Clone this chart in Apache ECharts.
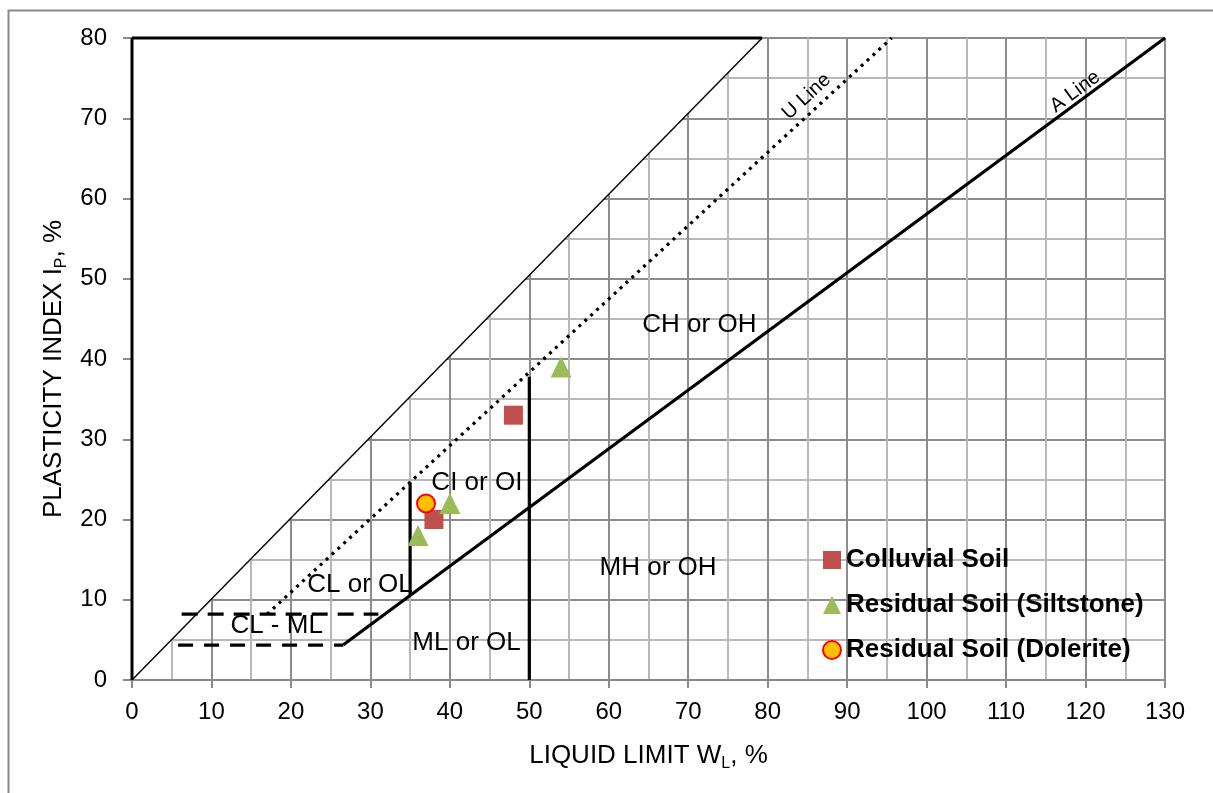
<!DOCTYPE html>
<html>
<head>
<meta charset="utf-8">
<script src="https://cdn.jsdelivr.net/npm/echarts@6/dist/echarts.min.js"></script>
<style>
html,body{margin:0;padding:0;background:#fff;}
#chart{width:1213px;height:793px;}
</style>
</head>
<body>
<div id="chart"></div>
<script>
// ---- data ----
const xTicks = [0,10,20,30,40,50,60,70,80,90,100,110,120,130];
const yTicks = [0,10,20,30,40,50,60,70,80];
const colluvial = [[48,33],[38,20]];
const siltstone = [[54,39],[40,22],[36,18]];
const dolerite = [[37,22]];
const aLine = [[26.6,4.4],[130,80]];
const uLine = [[17,8.2],[95.6,80]];
const div35 = [[35,10.5],[35,24.6]];
const div50 = [[50,0],[50,37.8]];
const dashLow = [[5.8,4.35],[26.6,4.35]];
const dashHigh = [[6.25,8.2],[31,8.2]];
const diagLine = [[0,0],[79.3,80]];
const topEdge = [[0,80],[79.3,80]];
const leftEdge = [[0,0],[0,80]];
const blankZone = [[0,0],[0,80],[79.3,80]];
const zoneLabels = [
  ['CH or OH',71.4,44.2],
  ['CI or OI',43.4,24.6],
  ['CL or OL',28.7,11.9],
  ['CL - ML',18.2,6.7],
  ['ML or OL',42.1,4.6],
  ['MH or OH',66.2,14.0]
];
const uLabel = [['U Line',84.9,72.7]];
const aLabel = [['A Line',118.7,73.3]];

const FONT = '"Liberation Sans", Arial, sans-serif';

function lineSeries(data, width, dash){
  return {
    type:'line', data:data, symbol:'none', showSymbol:false, silent:true,
    lineStyle:{color:'#000', width:width, type:dash||'solid'},
    z:5, clip:false, animation:false
  };
}
function labelSeries(arr, size, rot){
  return {
    type:'scatter', silent:true, symbolSize:0, z:6,
    data: arr.map(d => ({name:d[0], value:[d[1],d[2]]})),
    itemStyle:{color:'transparent'},
    label:{show:true, position:'inside', formatter:'{b}', color:'#000000', opacity:1,
      textBorderWidth:0, textBorderColor:'transparent',
      fontFamily:FONT, fontSize:size, rotate:rot||0}
  };
}

const chart = echarts.init(document.getElementById('chart'), null, {renderer:'canvas'});
const option = {
  animation:false,
  backgroundColor:'#fff',
  textStyle:{fontFamily:FONT},
  graphic:[{
    type:'rect', left:6, top:8, shape:{width:1240, height:820},
    style:{fill:null, stroke:'#8a8a8a', lineWidth:2}, silent:true, z:-1
  }],
  grid:{left:132, right:48, top:38, bottom:113, containLabel:false},
  legend:{
    orient:'vertical', left:817, top:542, itemWidth:18, itemHeight:18, itemGap:19,
    data:['Colluvial Soil','Residual Soil (Siltstone)','Residual Soil (Dolerite)'],
    textStyle:{fontFamily:FONT, fontSize:26, fontWeight:'bold', color:'#000'}
  },
  xAxis:{
    type:'value', min:xTicks[0], max:xTicks[xTicks.length-1], interval:10,
    name:'LIQUID LIMIT W{sub|L}, %', nameLocation:'middle', nameGap:60,
    nameTextStyle:{fontFamily:FONT, fontSize:26, color:'#000', lineHeight:32,
      rich:{sub:{fontFamily:FONT, fontSize:16, verticalAlign:'bottom', lineHeight:17, color:'#000'}}},
    axisLine:{show:true, lineStyle:{color:'#8a8a8a', width:2}},
    axisTick:{show:true, length:8, lineStyle:{color:'#8a8a8a', width:2}},
    axisLabel:{fontFamily:FONT, fontSize:24, color:'#000', margin:20},
    splitLine:{show:true, lineStyle:{color:'#8c8c8c', width:2}},
    minorTick:{show:false, splitNumber:2},
    minorSplitLine:{show:true, lineStyle:{color:'#b8b8b8', width:2}}
  },
  yAxis:{
    type:'value', min:yTicks[0], max:yTicks[yTicks.length-1], interval:10,
    name:'PLASTICITY INDEX I{sub|P}, %', nameLocation:'middle', nameGap:62, nameRotate:90,
    nameTextStyle:{fontFamily:FONT, fontSize:26, color:'#000', lineHeight:32, padding:[0,20,0,0],
      rich:{sub:{fontFamily:FONT, fontSize:16, verticalAlign:'bottom', lineHeight:17, color:'#000'}}},
    axisLine:{show:false},
    axisTick:{show:true, length:9, lineStyle:{color:'#8a8a8a', width:2}},
    axisLabel:{fontFamily:FONT, fontSize:24, color:'#000', margin:25},
    splitLine:{show:true, lineStyle:{color:'#8c8c8c', width:2}},
    minorTick:{show:false, splitNumber:2},
    minorSplitLine:{show:true, lineStyle:{color:'#b8b8b8', width:2}}
  },
  series:[
    {
      type:'custom', silent:true, z:1, data:[0], clip:false,
      renderItem:function(params, api){
        return {type:'polygon', shape:{points: blankZone.map(p => api.coord(p))},
          style:{fill:'#fff', stroke:null}};
      }
    },
    lineSeries(diagLine, 1.4),
    lineSeries(topEdge, 3),
    lineSeries(leftEdge, 3),
    lineSeries(aLine, 3.2),
    lineSeries(uLine, 3.2, [3,5]),
    lineSeries(div35, 3.2),
    lineSeries(div50, 3.2),
    lineSeries(dashLow, 3.2, [15,11]),
    lineSeries(dashHigh, 3.2, [16,10]),
    labelSeries(zoneLabels, 26, 0),
    labelSeries(uLabel, 20, 42.6),
    labelSeries(aLabel, 20, 36.4),
    {
      name:'Colluvial Soil', type:'scatter', data:colluvial, symbol:'rect', symbolSize:19, z:8,
      itemStyle:{color:'#C0504D', opacity:1}
    },
    {
      name:'Residual Soil (Siltstone)', type:'scatter', data:siltstone, symbol:'triangle', symbolSize:21, z:8,
      itemStyle:{color:'#9BBB59', opacity:1}
    },
    {
      name:'Residual Soil (Dolerite)', type:'scatter', data:dolerite, symbol:'circle', symbolSize:18, z:9,
      itemStyle:{color:'#FFC000', borderColor:'#FF0000', borderWidth:2, opacity:1}
    }
  ]
};
chart.setOption(option);
</script>
</body>
</html>
